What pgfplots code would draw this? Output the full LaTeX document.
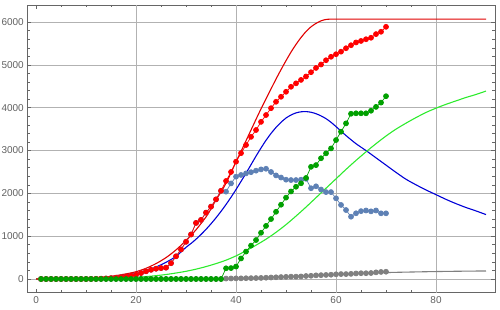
\documentclass[border=0pt]{standalone}
\usepackage{fontspec}
\setmainfont{Liberation Sans}
\usepackage{pgfplots}
\pgfplotsset{compat=1.18}
\definecolor{redline}{RGB}{225,0,0}
\definecolor{blueline}{RGB}{0,0,215}
\definecolor{greenline}{RGB}{45,235,45}
\definecolor{greendot}{RGB}{0,160,0}
\definecolor{steeldot}{RGB}{94,129,181}
\definecolor{graydot}{RGB}{128,128,128}
\definecolor{reddot}{RGB}{255,0,0}
\begin{document}
\begin{tikzpicture}
\begin{axis}[
  scale only axis, width=467.7bp, height=287.7bp,
  xmin=-1.75, xmax=91.8, ymin=-320, ymax=6400,
  xtick={0,20,40,60,80}, ytick={0,1000,...,6000},
  minor x tick num=3, minor y tick num=4,
  tick align=inside,
  major tick length=4bp, minor tick length=2.5bp,
  axis line style={black!60, line width=0.6bp},
  every tick/.style={black!60, line width=0.5bp},
  /pgf/number format/assume math mode=true,
  /pgf/number format/1000 sep={},
  scaled y ticks=false,
  every tick label/.append style={font=\fontsize{10}{12}\selectfont, text=black!62},
  ymajorgrids,
  grid style={black!30, line width=0.5bp},
  extra x ticks={20,40,60,80}, extra x tick labels={},
  extra x tick style={grid=major, major tick length=0pt},
  clip=true,
]
% model curves
\addplot[blueline, line width=1.1bp, smooth] coordinates {
(0,0) (5,2) (10,15) (15,50) (20,130) (22,195) (24,280) (26,390) (28,530) (30,740) (31,830) (32,930) (33,1040) (34,1160) (35,1290) (36,1430) (37,1580) (38,1740) (39,1910) (40,2090) (41,2280) (42,2470) (43,2670) (44,2870) (45,3060) (46,3240) (47,3400) (48,3540) (49,3660) (50,3760) (51,3830) (52,3880) (53,3905) (54,3910) (55,3895) (56,3860) (57,3810) (58,3745) (59,3660) (60,3560) (61,3455) (62,3350) (64,3160) (66,3000) (68,2830) (70,2660) (72,2490) (74,2330) (76,2200) (78,2080) (80,1970) (82,1860) (84,1760) (86,1670) (88,1590) (90,1505)
};
\addplot[greenline, line width=1.1bp, smooth] coordinates {
(0,0) (5,1) (10,5) (15,15) (20,40) (22,56) (24,78) (26,105) (28,140) (30,180) (32,230) (34,290) (36,360) (38,440) (40,540) (42,660) (44,790) (46,930) (48,1090) (50,1270) (52,1470) (54,1680) (56,1900) (58,2120) (60,2340) (62,2560) (64,2770) (66,2970) (68,3160) (70,3340) (72,3500) (74,3640) (76,3770) (78,3890) (80,3990) (82,4080) (84,4160) (86,4240) (88,4310) (90,4390)
};
\addplot[graydot, line width=1.1bp, smooth] coordinates {
(0,0) (20,1) (30,3) (35,8) (40,18) (45,35) (50,58) (55,82) (60,106) (65,128) (70,150) (75,163) (80,174) (85,182) (90,188)
};
\addplot[redline, line width=1.1bp, smooth] coordinates {
(0,0) (5,5) (10,20) (14,50) (16,80) (18,120) (20,170) (22,250) (24,360) (26,500) (28,680) (30,900) (32,1150) (34,1450) (35,1640) (36,1850) (37,2030) (38,2240) (39,2480) (40,2740) (41,2980) (42,3230) (43,3480) (44,3730) (45,3975) (46,4210) (47,4440) (48,4670) (49,4890) (50,5100) (51,5300) (52,5480) (53,5640) (54,5780) (55,5890) (56,5970) (57,6030) (58,6062) (59,6070) (60,6070) (70,6070) (80,6070) (90,6070)
};
% data points
\addplot[graydot, line width=0.7bp, mark=*, mark size=2.5bp, mark options={draw=graydot, fill=graydot}] coordinates {
(1,0) (2,0) (3,0) (4,0) (5,0) (6,0) (7,0) (8,0) (9,0) (10,0) (11,0) (12,0) (13,0) (14,0) (15,0) (16,0) (17,0) (18,0) (19,0) (20,0) (21,0) (22,0) (23,0) (24,0) (25,0) (26,0) (27,0) (28,0) (29,0) (30,0) (31,0) (32,0) (33,0) (34,0) (35,0) (36,0) (37,0) (38,10) (39,12) (40,15) (41,15) (42,18) (43,20) (44,22) (45,25) (46,30) (47,35) (48,40) (49,45) (50,50) (51,55) (52,55) (53,60) (54,70) (55,75) (56,85) (57,90) (58,95) (59,100) (60,110) (61,115) (62,115) (63,120) (64,130) (65,135) (66,135) (67,140) (68,155) (69,165) (70,170)
};
\addplot[steeldot, line width=0.7bp, mark=*, mark size=2.5bp, mark options={draw=steeldot, fill=steeldot}] coordinates {
(1,0) (2,0) (3,0) (4,0) (5,0) (6,0) (7,0) (8,0) (9,0) (10,0) (11,2) (12,4) (13,8) (14,13) (15,20) (16,30) (17,42) (18,58) (19,78) (20,100) (21,140) (22,180) (23,215) (24,240) (25,255) (26,265) (27,370) (28,530) (29,690) (30,870) (31,1040) (32,1310) (33,1380) (34,1550) (35,1690) (36,1860) (37,2060) (38,2040) (39,2233) (40,2390) (41,2430) (42,2467) (43,2495) (44,2530) (45,2560) (46,2575) (47,2500) (48,2420) (49,2370) (50,2320) (51,2311) (52,2311) (53,2320) (54,2340) (55,2120) (56,2165) (57,2090) (58,2030) (59,2030) (60,1885) (61,1730) (62,1611) (63,1455) (64,1535) (65,1585) (66,1600) (67,1580) (68,1600) (69,1534) (70,1534)
};
\addplot[reddot, line width=0.7bp, mark=*, mark size=2.5bp, mark options={draw=reddot, fill=reddot}] coordinates {
(1,0) (2,0) (3,0) (4,0) (5,0) (6,0) (7,0) (8,0) (9,0) (10,0) (11,2) (12,4) (13,8) (14,13) (15,20) (16,30) (17,42) (18,58) (19,78) (20,100) (21,140) (22,180) (23,215) (24,240) (25,255) (26,265) (27,370) (28,530) (29,690) (30,870) (31,1040) (32,1310) (33,1380) (34,1550) (35,1690) (36,1860) (37,2060) (38,2290) (39,2500) (40,2740) (41,2940) (42,3130) (43,3320) (44,3480) (45,3670) (46,3830) (47,3990) (48,4140) (49,4256) (50,4373) (51,4490) (52,4570) (53,4650) (54,4730) (55,4830) (56,4930) (57,5010) (58,5110) (59,5190) (60,5250) (61,5310) (62,5390) (63,5460) (64,5525) (65,5560) (66,5600) (67,5635) (68,5720) (69,5775) (70,5890)
};
\addplot[greendot, line width=0.7bp, mark=*, mark size=2.5bp, mark options={draw=greendot, fill=greendot}] coordinates {
(1,0) (2,0) (3,0) (4,0) (5,0) (6,0) (7,0) (8,0) (9,0) (10,0) (11,0) (12,0) (13,0) (14,0) (15,0) (16,0) (17,0) (18,0) (19,0) (20,0) (21,0) (22,0) (23,0) (24,0) (25,0) (26,0) (27,0) (28,0) (29,0) (30,0) (31,0) (32,0) (33,0) (34,0) (35,0) (36,0) (37,0) (38,250) (39,255) (40,290) (41,480) (42,640) (43,780) (44,910) (45,1080) (46,1240) (47,1400) (48,1570) (49,1735) (50,1900) (51,2045) (52,2155) (53,2235) (54,2360) (55,2620) (56,2660) (57,2820) (58,2935) (59,3050) (60,3245) (61,3440) (62,3635) (63,3860) (64,3870) (65,3870) (66,3870) (67,3930) (68,4020) (69,4120) (70,4270)
};
\end{axis}
\pgfresetboundingbox
\useasboundingbox (current axis.south west) ++(-27.3bp,-17.3bp) rectangle ++(500bp,310bp);
\end{tikzpicture}
\end{document}
